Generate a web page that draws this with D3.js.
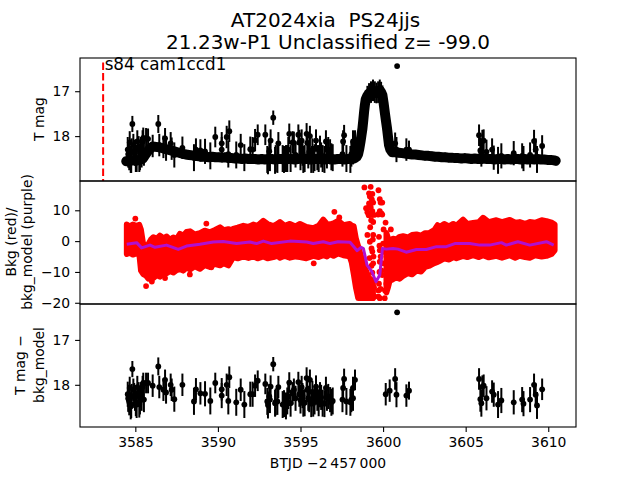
<!DOCTYPE html>
<html lang="en">
<head>
<meta charset="UTF-8">
<title>AT2024xia</title>
<script src="https://d3js.org/d3.v7.min.js"></script>
<style>
    body{
        margin: 0;
        background: white;
    }
    svg{
        display: block;
    }
    text{
        font-family: "DejaVu Sans", sans-serif;
        fill: black;
    }
    .domain, .tick line{
        stroke: black;
        stroke-width: 1.1px;
    }
</style>
</head>
<body>
<svg></svg>
<script>
    /* quiet part of the light curve, before and after the flare */
    const quietTime = [
        3584.45,3584.65,3584.85,3585.05,3585.25,3585.45,3585.6,3585.75,3585.9,3586.05,
        3586.25,3586.45,3586.65,3586.85,3587.05,3587.25,3587.45,3587.65,3587.85,3588.05,
        3588.25,3588.45,3588.65,3588.85,3589.05,3589.25,3589.45,3589.65,3589.85,3590.05,
        3590.25,3590.45,3590.65,3590.85,3591.05,3591.25,3591.45,3591.65,3591.85,3592.05,
        3592.25,3592.45,3592.65,3592.85,3593.05,3593.25,3593.45,3593.65,3593.85,3594.05,
        3594.25,3594.45,3594.65,3594.85,3595.05,3595.25,3595.45,3595.65,3595.85,3596.05,
        3596.25,3596.45,3596.65,3596.85,3597.05,3597.25,3597.45,3597.65,3597.85,3598.05,
        3598.25,
        3600.55,3600.75,3600.95,3601.15,3601.35,3601.55,3601.75,3601.95,3602.15,3602.35,
        3602.55,3602.75,3602.95,3603.15,3603.35,3603.55,3603.75,3603.95,3604.15,3604.35,
        3604.55,3604.75,3604.95,3605.15,3605.35,3605.55,3605.75,3605.95,3606.15,3606.35,
        3606.55,3606.75,3606.95,3607.15,3607.35,3607.55,3607.75,3607.95,3608.15,3608.35,
        3608.55,3608.75,3608.95,3609.15,3609.35,3609.55,3609.75,3609.95,3610.15,3610.35,
        3610.45];
    const quietMag = [
        18.56,18.55,18.54,18.55,18.53,18.50,18.42,18.34,18.28,18.23,
        18.24,18.25,18.27,18.29,18.31,18.33,18.35,18.37,18.39,18.41,
        18.42,18.43,18.44,18.45,18.46,18.46,18.47,18.46,18.47,18.47,
        18.48,18.47,18.49,18.49,18.50,18.50,18.51,18.50,18.51,18.51,
        18.51,18.52,18.51,18.52,18.51,18.51,18.52,18.51,18.51,18.52,
        18.51,18.51,18.52,18.51,18.50,18.51,18.51,18.52,18.51,18.51,
        18.51,18.52,18.51,18.51,18.52,18.51,18.51,18.52,18.51,18.51,
        18.50,
        18.36,18.36,18.37,18.38,18.39,18.40,18.41,18.41,18.42,18.43,
        18.44,18.44,18.45,18.46,18.46,18.47,18.47,18.48,18.48,18.49,
        18.49,18.50,18.49,18.50,18.51,18.50,18.51,18.51,18.50,18.51,
        18.51,18.52,18.51,18.51,18.52,18.51,18.52,18.51,18.51,18.52,
        18.51,18.52,18.51,18.52,18.51,18.52,18.52,18.53,18.53,18.54,
        18.55];
    const quietErr = 0.1;

    const flareTime = [3598.40,3598.49,3598.56,3598.63,3598.69,3598.75,3598.80,3598.85,3598.90,3598.95,
        3599.05,3599.15,3599.27,3599.39,3599.50,3599.60,3599.70,3599.80,3599.88,3599.96,
        3600.03,3600.10,3600.17,3600.24,3600.30,3600.36,3600.44];
    const flareMag = [18.46,18.40,18.28,18.13,17.98,17.83,17.65,17.46,17.30,17.18,
        17.10,17.05,17.02,16.98,17.02,17.04,17.02,16.98,17.02,17.09,
        17.26,17.46,17.65,17.83,18.02,18.20,18.30];
    const flareErr = [.07,.10,.12,.15,.17,.18,.20,.20,.20,.20,
        .22,.23,.24,.24,.24,.23,.24,.24,.23,.22,
        .22,.20,.18,.18,.17,.14,.10];

    /* the noisy points: they show as spikes in the top panel and alone in the bottom one */
    const noisyTime = [
        3584.54,3584.60,3584.66,3584.72,3584.78,3584.82,3584.88,3584.98,3585.08,3585.12,
        3585.20,3585.24,3585.34,3585.44,3585.48,3585.52,3585.65,3585.77,3586.05,3586.39,
        3586.45,3586.70,3586.80,3586.86,3587.14,3587.20,3587.36,3587.85,3588.55,3588.67,
        3588.94,3589.22,3589.54,3589.84,3590.23,3590.23,3590.53,3590.63,3590.69,3591.11,
        3591.38,3591.60,3591.96,3592.10,3592.25,3592.41,3592.87,3592.99,3593.11,3593.19,
        3593.35,3593.46,3593.60,3593.66,3593.92,3594.12,3594.26,3594.32,3594.40,3594.52,
        3594.60,3594.87,3594.93,3595.07,3595.17,3595.37,3595.41,3595.53,3595.57,3595.77,
        3595.94,3596.02,3596.18,3596.34,3596.54,3596.68,3596.79,3596.87,3597.54,3597.58,
        3597.64,3597.78,3598.02,3598.08,3598.18,3598.18,3598.30,3600.16,3600.40,3600.73,
        3600.81,3600.85,3601.41,3601.57,3605.81,3605.89,3605.95,3606.01,3606.09,3606.26,
        3606.60,3606.70,3606.96,3607.16,3607.91,3608.42,3608.50,3608.90,3609.14,3609.24,
        3609.32,3609.63,
        3584.57,3584.63,3584.75,3584.93,3585.03,3585.28,3585.38,3593.03,3593.15,3593.50,
        3594.00,3594.20,3594.70,3595.00,3595.12,3595.25,3595.47,3595.65,3595.72,3595.85,
        3596.10,3596.25,3596.45,3596.60,3596.95];
    const noisyMag = [
        18.30,18.42,18.14,18.52,18.33,17.73,18.20,18.38,18.50,18.12,
        18.25,18.50,18.30,18.12,18.04,18.38,18.05,18.06,18.22,17.73,
        18.20,18.24,18.05,18.30,18.16,18.28,18.42,18.26,18.48,18.30,
        18.32,18.34,18.44,18.02,18.16,18.30,18.02,18.40,17.89,18.42,
        18.20,18.48,18.29,18.30,18.09,17.97,17.97,18.52,18.34,18.10,
        17.59,18.54,18.52,18.16,18.50,18.50,18.30,17.95,18.50,18.14,
        18.15,17.97,18.14,18.10,18.52,17.95,18.15,18.35,18.00,18.52,
        18.10,18.48,18.27,18.50,18.12,18.30,18.35,18.46,18.40,18.12,
        17.98,18.50,18.52,18.40,18.35,18.12,18.10,17.85,18.15,18.16,
        18.30,16.44,18.30,18.30,17.98,18.32,18.38,18.11,18.10,18.35,
        18.30,18.48,18.54,18.44,18.38,18.44,18.50,18.42,18.11,18.30,
        18.52,18.22,
        18.40,18.46,18.52,18.36,18.50,18.46,18.42,18.55,18.48,18.50,
        18.52,18.50,18.42,18.46,18.38,18.50,18.44,18.52,18.30,18.48,
        18.50,18.42,18.52,18.44,18.48];
    const noisyDetrended = [
        18.21,18.33,18.07,18.47,18.26,17.65,18.11,18.30,18.44,18.05,
        18.19,18.43,18.22,18.05,17.96,18.33,17.96,17.96,18.02,17.59,
        18.05,18.11,17.89,18.17,18.00,18.11,18.32,18.00,18.37,18.10,
        18.19,18.20,18.36,17.96,18.10,18.24,18.00,18.36,17.83,18.39,
        18.11,18.44,18.21,18.21,18.02,17.91,17.98,18.37,18.26,18.04,
        17.54,18.41,18.37,18.05,18.44,18.47,18.26,17.95,18.41,18.19,
        18.11,17.94,18.21,18.05,18.41,17.85,18.11,18.33,17.89,18.41,
        18.04,18.30,18.22,18.41,18.07,18.26,18.33,18.39,18.33,18.07,
        17.87,18.37,18.39,18.33,18.30,18.07,17.89,18.21,18.13,17.87,
        18.22,16.385,18.24,18.13,17.87,18.32,18.41,18.04,18.02,18.30,
        18.15,18.22,18.44,18.35,18.39,18.33,18.42,18.33,18.00,18.22,
        18.46,18.10,
        18.30,18.38,18.44,18.24,18.40,18.36,18.30,18.45,18.33,18.38,
        18.42,18.36,18.30,18.34,18.24,18.40,18.30,18.42,18.16,18.36,
        18.40,18.28,18.42,18.30,18.36];
    const noisyErr = [
        .28,.28,.25,.30,.28,.18,.25,.28,.30,.25,
        .25,.30,.28,.25,.23,.28,.23,.23,.25,.20,
        .25,.25,.23,.25,.25,.25,.28,.25,.30,.25,
        .25,.28,.30,.23,.25,.28,.25,.30,.24,.30,
        .25,.30,.28,.28,.25,.23,.23,.30,.28,.25,
        .16,.30,.30,.25,.30,.30,.28,.23,.30,.25,
        .25,.23,.28,.25,.30,.24,.25,.28,.23,.30,
        .25,.28,.28,.30,.25,.28,.28,.30,.28,.25,
        .23,.30,.30,.28,.28,.25,.23,.25,.25,.24,
        .28,.02,.25,.20,.24,.28,.30,.25,.25,.27,
        .25,.27,.30,.28,.27,.28,.28,.28,.25,.25,
        .30,.24,
        .30,.30,.30,.28,.30,.30,.28,.30,.30,.30,
        .30,.30,.28,.30,.28,.30,.28,.30,.25,.30,
        .30,.28,.30,.28,.30];

    /* red background band, upper and lower edge of the cloud; null is the gap in the dip */
    const bkgTime = [3584.48,3584.65,3584.85,3585.05,3585.24,3585.34,3585.48,3585.65,3585.79,3585.95,
        3586.09,3586.3,3586.49,3586.7,3586.9,3587.1,3587.3,3587.5,3587.7,3587.9,
        3588.1,3588.31,3588.6,3588.91,3589.2,3589.52,3589.8,3590.13,3590.35,3590.63,
        3590.82,3590.92,3591.2,3591.54,3591.85,3592.14,3592.4,3592.75,3593.0,3593.35,
        3593.6,3593.76,3594.05,3594.36,3594.7,3594.97,3595.35,3595.77,3596.1,3596.38,
        3596.6,3596.77,3597.0,3597.28,3597.6,3597.98,3598.1,3598.22,3598.35,3598.49,
        3598.79,3599.09,3599.39,3599.7,
        3600.2,3600.3,3600.4,3600.6,3600.8,3601.0,3601.21,3601.5,3601.75,3602.02,
        3602.3,3602.55,3602.82,3603.1,3603.3,3603.43,3603.7,3604.0,3604.25,3604.44,
        3604.84,3605.1,3605.45,3605.8,3606.05,3606.4,3606.86,3607.2,3607.67,3608,
        3608.27,3608.6,3608.88,3609.2,3609.6,3609.89,3610.2,3610.39];
    const bkgUpper = [5.4,4.8,5.4,5.0,5.3,3.8,-1.1,-1.4,-1.0,0.6,
        1.3,0.8,1.8,1.0,1.5,0.4,1.2,0.7,2.4,1.8,
        3.0,3.2,2.2,2.6,3.4,2.9,3.6,4.5,3.6,3.9,
        3.6,4.0,4.4,5.0,4.6,5.4,5.0,6.6,5.6,4.9,
        5.6,6.2,5.0,5.6,4.8,5.6,4.6,4.2,5.0,7.0,
        5.6,5.4,5.8,6.6,5.2,5.6,5.0,4.9,1,-1.6,
        -7,-11.4,-13.5,null,
        2.7,1,0,0.8,0.5,1.4,1.6,1.2,2.0,2.2,
        1.8,2.6,2.7,3.6,5.2,4.6,5.6,4.8,5.6,5.0,
        7,5.6,5.9,6.2,7.6,6.2,6.8,6.2,6.9,6.0,
        6.2,5.6,6.2,6.0,6.8,6.5,6,5.4];
    const bkgLower = [-4.2,-3.8,-4.4,-4.0,-4.4,-9.6,-10.7,-11.2,-12.2,-11.5,
        -12,-11,-11.6,-10.4,-10.4,-9.8,-10.2,-9.4,-9.1,-9.6,
        -8.6,-9.2,-8.2,-9,-7.8,-8.4,-7.4,-7.9,-7.2,-7.9,
        -6.2,-5.2,-5.6,-5.0,-5.5,-5.0,-5.6,-5.0,-5.6,-5.2,
        -4.8,-5.4,-4.8,-5.4,-5.0,-5.2,-5.6,-4.8,-5.2,-4.6,
        -5,-4.2,-4.8,-4,-4.6,-5,-7,-10.7,-15,-18.5,
        -18.5,-18.5,-18.5,null,
        -16.7,-15,-12.9,-12.4,-11.8,-12.2,-11.3,-10.4,-10.8,-9.6,
        -9.9,-8.4,-8,-7.2,-6.8,-6.4,-5.6,-6,-5.2,-5.6,
        -4.8,-5.2,-4.6,-5.2,-4.6,-5.3,-4.8,-5.4,-4.6,-5.4,
        -4.8,-5.2,-5.4,-4.6,-5,-4.8,-4.2,-3];

    /* single red points that stand clear of the cloud */
    const bkgLoneTime = [3585,3589.3,3595.8,3585.65,3586,3586.8,3588.3,3589.6,
        3597.05,3597.35,3598.08,3598.87,3599.25,3599.72,3599.15,3599.35,3599.8,3599.85,
        3599.15,3599.4,3599.95,3599.9,3599.05,3599.35,3599.7,3599.8,3599.95,3598.97,3599.3,
        3599.13,3599.45,3599.75,3600.15,3599.4,3600.03,3600.47,3599.05,3599.4,3599.75,
        3599.2,3599.3,3599.8,3600,3599.35,3600.1,3599.4,3599.8,3600,3599.35,3599.9,
        3599.3,3599.75,3600.2,3600.1,3599.8,3599.3,
        3599.2,3599.32,3599.25,3599.1,3599.28,3599.22,3599.38,3599.42,3599.78,3599.85,
        3599.18,3599.3,3599.78,3599.95,3599.45,3599.72,3600.12,3599.72,3599.85,3599.5];
    const bkgLoneVal = [7.3,5.7,-7.2,-14.6,-13.1,-12,-10.8,-8.5,
        9.5,7.7,-0.5,17.4,17.6,16.5,15.5,15.3,13.6,12.5,
        12.2,12.5,12.5,9,9.4,9.7,8.6,9.7,8.6,10.7,8.5,
        8.4,8.5,8.9,6,6.2,3.8,3.8,2,2,1.4,
        -0.2,-2.4,-3,-0.8,-3.4,-3.5,-7.2,-6.7,-7.2,-10.2,-9.5,
        -12.6,-13.8,-13.8,-18.5,-18.5,-18.2,
        14.5,13.5,11,10.8,6.8,4.5,0.5,-5,-1.5,-5,
        -5.5,-8,-10,-11,-15,-16,-16,-18,-15.5,-18];

    /* purple background model */
    const modelTime = [3584.48,3585.08,3585.38,3585.89,3586.19,3586.89,3587.6,3588.1,3588.91,3589.72,
        3590.32,3591.13,3591.94,3592.34,3592.75,3593.25,3594.36,3595.37,3595.77,3596.38,
        3596.79,3597.28,3598.0,3598.43,3598.67,3598.81,3599.03,3599.33,3599.57,3599.8,3599.96,
        3600.2,3600.6,3600.9,3601.4,3602.02,3602.62,3603.23,3603.83,3604.34,3605.25,
        3605.85,3606.45,3607.16,3607.46,3608.16,3608.88,3609.89,3610.33];
    const modelVal = [-1,-0.5,-2.2,-1.3,-2,-1.3,-2.7,-1.6,-1,-0.3,
        -0.1,-0.8,-0.3,-0.8,0,-0.8,0,-0.3,-0.8,-0.2,
        -0.8,-0.2,-0.4,-3.1,-2,-2.4,-7.8,-10,-13.2,-11,-2.4,
        -2.6,-2.4,-2.6,-3.6,-2.7,-2.7,-1.8,-1.8,-0.8,-0.8,
        -1.3,-1.3,-0.5,-1.3,-0.2,-1.3,-0.2,-1.3];

    const xTicks = [3585, 3590, 3595, 3600, 3605, 3610];
    const magTicks = [17, 18];
    const bkgTicks = [10, 0, -10, -20];
    const sectorTime = 3583.05;
    const sectorTop = 16.36;

    const width = 640;
    const height = 480;
    const left = 80;
    const right = 576;
    const top1 = 58, top2 = 181, top3 = 304, bottom3 = 427;

    const svg = d3.select('svg')
        .attr('width', width)
        .attr('height', height);

    const x = d3.scaleLinear().domain([3581.65, 3611.68]).range([left, right]);
    const yTop = d3.scaleLinear().domain([16.26, 19.0]).range([top1, top2]);
    const yMid = d3.scaleLinear().domain([19.5, -20.4]).range([top2, top3]);
    const yBot = d3.scaleLinear().domain([16.2, 18.94]).range([top3, bottom3]);

    /* clip each panel like axes do */
    const defs = svg.append('defs');
    [['clipTop', top1, top2], ['clipMid', top2, top3], ['clipBot', top3, bottom3]].forEach(function(c){
        defs.append('clipPath').attr('id', c[0]).append('rect')
            .attr('x', left).attr('y', c[1])
            .attr('width', right - left).attr('height', c[2] - c[1]);
    });

    const radius = 2.9;

    function drawErrorPoints(g, times, mags, errs, y){
        const rows = times.map(function(t, i){
            return {t: t, m: mags[i], e: Array.isArray(errs) ? errs[i] : errs};
        });
        g.selectAll(null).data(rows).enter().append('line')
            .attr('x1', d => x(d.t)).attr('x2', d => x(d.t))
            .attr('y1', d => y(d.m - d.e)).attr('y2', d => y(d.m + d.e))
            .attr('stroke', 'black').attr('stroke-width', 2);
        g.selectAll(null).data(rows).enter().append('circle')
            .attr('cx', d => x(d.t)).attr('cy', d => y(d.m))
            .attr('r', radius).attr('fill', 'black');
    }

    /* top panel */
    const topPanel = svg.append('g').attr('clip-path', 'url(#clipTop)');
    drawErrorPoints(topPanel, noisyTime, noisyMag, noisyErr, yTop);
    drawErrorPoints(topPanel, quietTime, quietMag, quietErr, yTop);
    drawErrorPoints(topPanel, flareTime, flareMag, flareErr, yTop);
    /* the points overlap into a solid ribbon, so run a thick line through them */
    const curve = quietTime.map((t, i) => [t, quietMag[i]])
        .concat(flareTime.map((t, i) => [t, flareMag[i]]))
        .sort((a, b) => a[0] - b[0]);
    topPanel.append('path')
        .attr('d', d3.line().x(d => x(d[0])).y(d => yTop(d[1]))(curve))
        .attr('fill', 'none').attr('stroke', 'black').attr('stroke-width', 10)
        .attr('stroke-linecap', 'round').attr('stroke-linejoin', 'round');
    topPanel.append('line')
        .attr('x1', x(sectorTime)).attr('x2', x(sectorTime))
        .attr('y1', yTop(sectorTop)).attr('y2', top2)
        .attr('stroke', 'red').attr('stroke-width', 2)
        .attr('stroke-dasharray', '7.4,3.2');

    /* middle panel */
    const midPanel = svg.append('g').attr('clip-path', 'url(#clipMid)');
    const bkgRows = bkgTime.map((t, i) => ({t: t, hi: bkgUpper[i], lo: bkgLower[i]}));
    const bkgArea = d3.area()
        .defined(d => d.hi !== null)
        .x(d => x(d.t)).y0(d => yMid(d.lo)).y1(d => yMid(d.hi));
    midPanel.append('path').attr('d', bkgArea(bkgRows))
        .attr('fill', 'red').attr('stroke', 'red')
        .attr('stroke-width', radius * 2).attr('stroke-linejoin', 'round');
    midPanel.selectAll(null).data(bkgLoneTime).enter().append('circle')
        .attr('cx', d => x(d)).attr('cy', (d, i) => yMid(bkgLoneVal[i]))
        .attr('r', radius).attr('fill', 'red');
    midPanel.append('path')
        .attr('d', d3.line().x(d => x(d)).y((d, i) => yMid(modelVal[i]))(modelTime))
        .attr('fill', 'none').attr('stroke', '#b010d0').attr('stroke-width', 3)
        .attr('stroke-linejoin', 'round');

    /* bottom panel */
    const botPanel = svg.append('g').attr('clip-path', 'url(#clipBot)');
    drawErrorPoints(botPanel, noisyTime, noisyDetrended, noisyErr, yBot);

    /* frames and axes */
    [[top1, top2], [top2, top3], [top3, bottom3]].forEach(function(p){
        svg.append('rect')
            .attr('x', left).attr('y', p[0])
            .attr('width', right - left).attr('height', p[1] - p[0])
            .attr('fill', 'none').attr('stroke', 'black').attr('stroke-width', 1.1);
    });

    function styleAxis(g){
        g.selectAll('.domain').remove();
        g.selectAll('text').style('font-size', '13.9px').style('font-family', '"DejaVu Sans", sans-serif');
    }
    const fmt = d3.format('d');
    svg.append('g').attr('transform', `translate(${left},0)`)
        .call(d3.axisLeft(yTop).tickValues(magTicks).tickFormat(fmt).tickSize(4.9).tickPadding(4.9))
        .call(styleAxis);
    svg.append('g').attr('transform', `translate(${left},0)`)
        .call(d3.axisLeft(yMid).tickValues(bkgTicks).tickFormat(fmt).tickSize(4.9).tickPadding(4.9))
        .call(styleAxis);
    svg.append('g').attr('transform', `translate(${left},0)`)
        .call(d3.axisLeft(yBot).tickValues(magTicks).tickFormat(fmt).tickSize(4.9).tickPadding(4.9))
        .call(styleAxis);
    svg.append('g').attr('transform', `translate(0,${bottom3})`)
        .call(d3.axisBottom(x).tickValues(xTicks).tickFormat(fmt).tickSize(4.9).tickPadding(4.9))
        .call(styleAxis);

    /* all the labels */
    function label(txt, px, py, size, rotate){
        const t = svg.append('text')
            .attr('text-anchor', 'middle')
            .style('font-size', size + 'px')
            .text(txt);
        if(rotate){
            t.attr('transform', `translate(${px},${py}) rotate(-90)`);
        }else{
            t.attr('x', px).attr('y', py);
        }
        return t;
    }
    label('AT2024xia  PS24jjs', 325.5, 27, 20).style('white-space', 'pre');
    label('21.23w-P1 Unclassified z= -99.0', 328, 49, 20);
    label('s84 cam1ccd1', 165.5, 70, 16.8);
    label('T mag', 44, 119, 13.9, true);
    label('Bkg (red)/', 16, 242, 13.9, true);
    label('bkg_model (purple)', 32, 242, 13.9, true);
    label('T mag \u2212', 25, 365, 13.9, true);
    label('bkg_model', 44, 365, 13.9, true);
    label('BTJD \u22122\u2009457\u2009000', 328, 468, 13.9);
</script>
</body>
</html>
